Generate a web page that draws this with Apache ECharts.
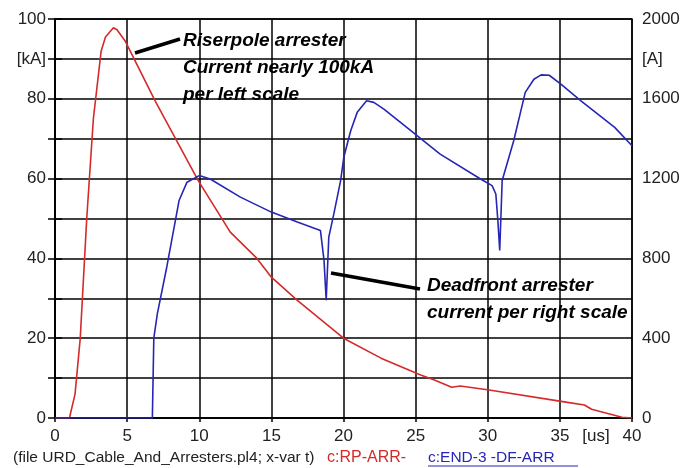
<!DOCTYPE html>
<html>
<head>
<meta charset="utf-8">
<script src="https://cdn.jsdelivr.net/npm/echarts@6/dist/echarts.min.js"></script>
<style>
  html, body { margin: 0; padding: 0; background: #fff; }
  #arrChart { width: 697px; height: 468px; }
</style>
</head>
<body>
<div id="arrChart"></div>
<script>
// riserpole arrester current, left scale [kA]
const rpTime = [0, 1.0, 1.39, 1.75, 2.2, 2.66, 3.2, 3.5, 4.05, 4.3, 4.86, 6.94, 9.93, 12.15, 14.0, 15.0, 16.8, 20.0, 22.6, 25.35, 26.3, 27.5, 28.1, 30.1, 35.2, 36.7, 37.2, 39.3, 40]
const rpKA = [0, 0, 6, 20, 50, 75, 92, 95.5, 97.8, 97.3, 94.5, 79.5, 59.5, 46.6, 40, 35.3, 29.5, 20, 15, 10.75, 9.5, 7.7, 8.0, 7.0, 4.1, 3.25, 2.2, 0.2, 0]

// deadfront arrester current, right scale [A]
const dfTime = [0, 6.75, 6.85, 7.1, 7.75, 8.6, 9.15, 10.0, 10.76, 12.85, 15.0, 16.8, 18.4, 18.65, 18.8, 18.98, 19.33, 19.8, 20.02, 20.5, 20.95, 21.6, 22.1, 22.8, 25.1, 26.7, 29.5, 30.3, 30.56, 30.7, 30.83, 31.0, 31.8, 32.6, 33.2, 33.7, 34.26, 35.07, 36.46, 38.8, 40]
const dfA = [0, 0, 400, 524, 757, 1090, 1182, 1215, 1198, 1107, 1032, 982, 940, 790, 590, 907, 1023, 1190, 1307, 1440, 1532, 1590, 1582, 1548, 1415, 1323, 1198, 1165, 1123, 990, 840, 1190, 1390, 1632, 1698, 1720, 1718, 1673, 1590, 1457, 1365]

const leftLabels = [0, 20, 40, 60, 80, 100]
const rightLabels = [0, 400, 800, 1200, 1600, 2000]

const red = '#d42a2a'
const blue = '#2626b4'
const font = 'Liberation Sans'

const zip = (xs, ys) => xs.map((x, i) => [x, ys[i]])

const chart = echarts.init(document.getElementById('arrChart'))

const option = {
  animation: false,
  textStyle: { fontFamily: font },
  grid: {
    left: 55,
    right: 65,
    top: 19,
    bottom: 50,
    show: true,
    borderColor: '#000',
    borderWidth: 1.5
  },
  xAxis: [
    {
      type: 'value',
      min: 0,
      max: 40,
      interval: 5,
      axisLine: { lineStyle: { color: '#000', width: 1.5 } },
      axisTick: { show: true, length: 4, lineStyle: { color: '#000', width: 1.5 } },
      axisLabel: { color: '#222', fontSize: 17, margin: 10 },
      splitLine: { show: true, lineStyle: { color: '#000', width: 1.5 } }
    },
    {
      type: 'value',
      position: 'bottom',
      min: 0,
      max: 40,
      interval: 2.5,
      axisLine: { show: false },
      axisTick: { show: false },
      splitLine: { show: false },
      axisLabel: {
        color: '#222',
        fontSize: 17,
        margin: 10,
        formatter: v => (v === 37.5 ? '[us]' : '')
      }
    }
  ],
  yAxis: [
    {
      type: 'value',
      min: 0,
      max: 100,
      interval: 10,
      axisLine: { show: true, lineStyle: { color: '#000', width: 1.5 } },
      axisTick: { show: true, length: 7, lineStyle: { color: '#000', width: 1.5 } },
      axisLabel: {
        color: '#222',
        fontSize: 17,
        margin: 9,
        formatter: v => (v === 90 ? '[kA]' : leftLabels.indexOf(v) >= 0 ? String(v) : '')
      },
      splitLine: { show: true, lineStyle: { color: '#000', width: 1.5 } }
    },
    {
      type: 'value',
      min: 0,
      max: 2000,
      interval: 200,
      position: 'right',
      axisLine: { show: true, lineStyle: { color: '#000', width: 1.5 } },
      axisTick: { show: true, length: 7, lineStyle: { color: '#000', width: 1.5 } },
      axisLabel: {
        color: '#222',
        fontSize: 17,
        margin: 10,
        formatter: v => (v === 1800 ? '[A]' : rightLabels.indexOf(v) >= 0 ? String(v) : '')
      },
      splitLine: { show: false }
    }
  ],
  series: [
    {
      name: 'c:RP-ARR-',
      type: 'line',
      xAxisIndex: 0,
      yAxisIndex: 0,
      showSymbol: false,
      symbol: 'none',
      lineStyle: { color: red, width: 1.6 },
      data: zip(rpTime, rpKA)
    },
    {
      name: 'c:END-3 -DF-ARR',
      type: 'line',
      xAxisIndex: 0,
      yAxisIndex: 1,
      showSymbol: false,
      symbol: 'none',
      lineStyle: { color: blue, width: 1.6 },
      data: zip(dfTime, dfA)
    }
  ],
  graphic: [
    {
      type: 'line',
      shape: { x1: 135, y1: 53, x2: 180, y2: 39 },
      style: { stroke: '#000', lineWidth: 3.5 }
    },
    {
      type: 'text',
      left: 183,
      top: 27,
      style: {
        text: 'Riserpole arrester\nCurrent nearly 100kA\nper left scale',
        font: 'italic bold 19px "Liberation Sans"',
        lineHeight: 27,
        fill: '#000'
      }
    },
    {
      type: 'line',
      shape: { x1: 331, y1: 273, x2: 420, y2: 289 },
      style: { stroke: '#000', lineWidth: 3.5 }
    },
    {
      type: 'text',
      left: 427,
      top: 272,
      style: {
        text: 'Deadfront arrester\ncurrent per right scale',
        font: 'italic bold 19px "Liberation Sans"',
        lineHeight: 27,
        fill: '#000'
      }
    },
    {
      type: 'text',
      left: 13,
      top: 450,
      style: {
        text: '(file URD_Cable_And_Arresters.pl4; x-var t)',
        font: '15.5px "Liberation Sans"',
        fill: '#222'
      }
    },
    {
      type: 'text',
      left: 327,
      top: 450,
      style: { text: 'c:RP-ARR-', font: '16px "Liberation Sans"', fill: red }
    },
    {
      type: 'text',
      left: 428,
      top: 450,
      style: { text: 'c:END-3 -DF-ARR', font: '15.5px "Liberation Sans"', fill: blue }
    },
    {
      type: 'line',
      shape: { x1: 428, y1: 466, x2: 578, y2: 466 },
      style: { stroke: blue, lineWidth: 1.2 }
    }
  ]
}

option && chart.setOption(option)
</script>
</body>
</html>
